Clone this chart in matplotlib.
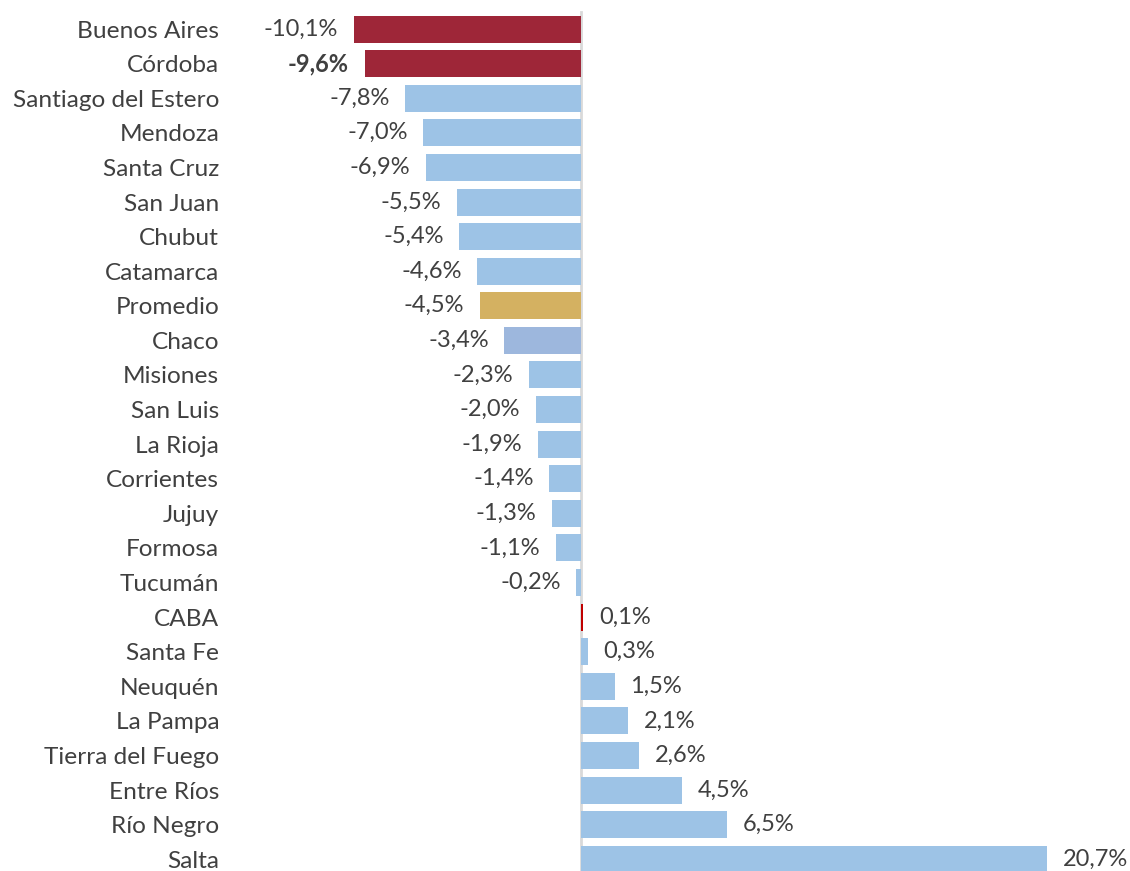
import matplotlib
matplotlib.use('Agg')
import matplotlib.pyplot as plt

plt.rcParams['font.family'] = ['Lato', 'DejaVu Sans']

# datos
provincias = ['Buenos Aires', 'Córdoba', 'Santiago del Estero', 'Mendoza', 'Santa Cruz',
              'San Juan', 'Chubut', 'Catamarca', 'Promedio', 'Chaco', 'Misiones',
              'San Luis', 'La Rioja', 'Corrientes', 'Jujuy', 'Formosa', 'Tucumán',
              'CABA', 'Santa Fe', 'Neuquén', 'La Pampa', 'Tierra del Fuego',
              'Entre Ríos', 'Río Negro', 'Salta']
variacion = [-10.1, -9.6, -7.8, -7.0, -6.9, -5.5, -5.4, -4.6, -4.5, -3.4, -2.3,
             -2.0, -1.9, -1.4, -1.3, -1.1, -0.2, 0.1, 0.3, 1.5, 2.1, 2.6, 4.5, 6.5, 20.7]

azul = '#9DC3E6'
colores = [azul] * len(provincias)
colores[0] = '#9E2638'
colores[1] = '#9E2638'
colores[8] = '#D4B161'
colores[9] = '#9DB7DD'
colores[17] = '#C00000'

fig = plt.figure(figsize=(11.3, 8.71), dpi=100)
ax = fig.add_axes([0.205, 0.0, 0.795, 1.0])

y = list(range(len(provincias)))
ax.barh(y, variacion, height=0.78, color=colores, zorder=2)

# eje cero
ax.plot([0, 0], [-0.5, 24.6], color='#D9D9D9', lw=2, zorder=1)

for i, v in enumerate(variacion):
    txt = ('%.1f%%' % v).replace('.', ',')
    peso = 'bold' if i == 1 else 'normal'
    if v < 0:
        ax.text(v - 0.7, i, txt, ha='right', va='center', fontsize=17,
                color='#404040', fontweight=peso)
    else:
        ax.text(v + 0.7, i, txt, ha='left', va='center', fontsize=17,
                color='#404040', fontweight=peso)

ax.set_xlim(-15.52, 24.4)
ax.set_ylim(24.34, -0.84)
ax.set_yticks(y)
ax.set_yticklabels(provincias, fontsize=17.6, color='#404040')
ax.tick_params(axis='y', length=0, pad=9)
ax.set_xticks([])
for s in ax.spines.values():
    s.set_visible(False)

fig.savefig('out.png', dpi=100)
